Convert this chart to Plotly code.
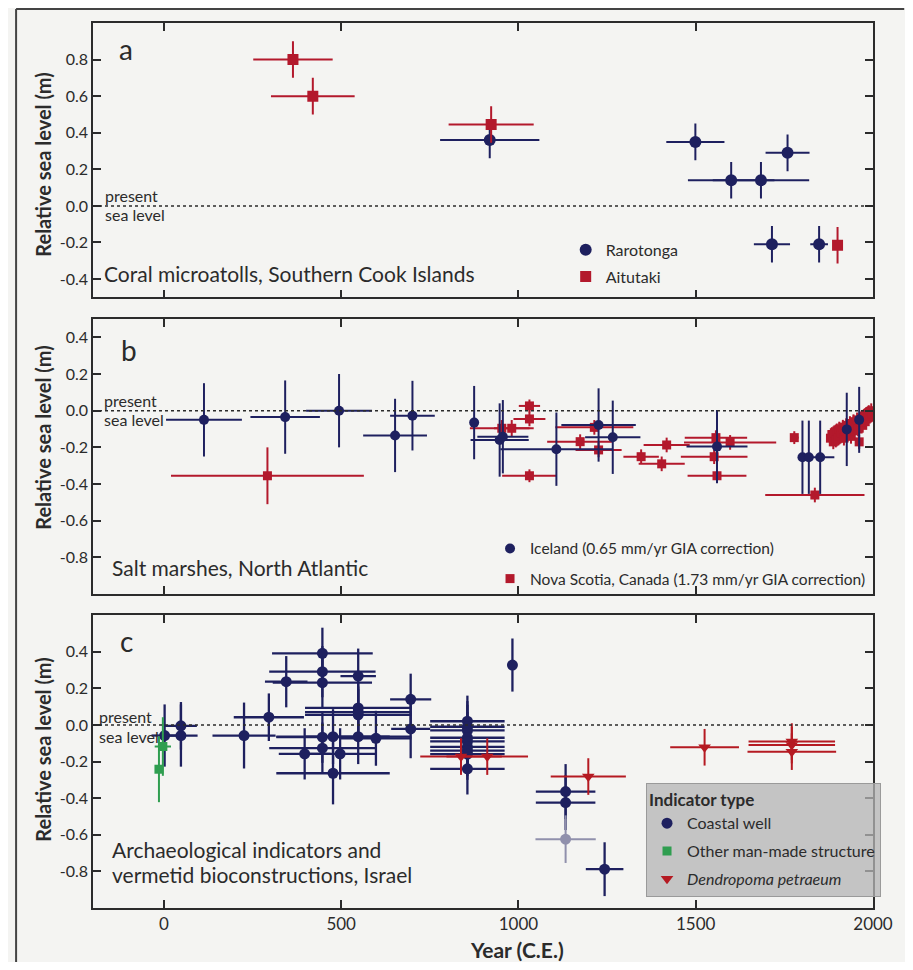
import plotly.graph_objects as go

# ---------------- data ----------------
# Panel a: Coral microatolls, Southern Cook Islands
rar_year = [919, 1499, 1600, 1684, 1759, 1715, 1848]
rar_val = [0.36, 0.35, 0.14, 0.14, 0.29, -0.21, -0.21]
rar_xerr = [140, 82, 122, 136, 62, 51, 25]
rar_yerr = [0.10, 0.10, 0.10, 0.10, 0.10, 0.10, 0.10]

ait_year = [364, 420, 923, 1900]
ait_val = [0.80, 0.60, 0.445, -0.215]
ait_xerr = [112, 118, 120, 4]
ait_yerr = [0.10, 0.10, 0.10, 0.10]

# Panel b: Salt marshes, North Atlantic
ice_year = [113, 342, 494, 652, 701, 875, 947, 956, 1107, 1226, 1266, 1560, 1801, 1819, 1851, 1926, 1961]
ice_val = [-0.05, -0.035, 0.0, -0.135, -0.027, -0.065, -0.16, -0.142, -0.21, -0.078, -0.145, -0.196,
           -0.254, -0.254, -0.254, -0.102, -0.05]
ice_xerr = [107, 98, 93, 90, 63, 6, 82, 72, 158, 105, 78, 86, 6, 6, 40, 6, 6]
ice_yerr = [0.2, 0.2, 0.2, 0.2, 0.19, 0.2, 0.2, 0.2, 0.2, 0.2, 0.2, 0.2, 0.2, 0.2, 0.2, 0.2, 0.18]

ns_year = [292, 953, 981, 1031, 1031, 1031, 1174, 1214, 1226, 1346, 1404, 1418, 1557, 1597, 1552, 1560, 1778, 1836]
ns_val = [-0.355, -0.096, -0.096, 0.026, -0.045, -0.355, -0.169, -0.091, -0.214, -0.251, -0.29, -0.187,
          -0.147, -0.173, -0.251, -0.355, -0.147, -0.46]
ns_xerr = [272, 90, 50, 30, 45, 77, 93, 110, 65, 50, 65, 65, 88, 130, 94, 83, 12, 140]
ns_yerr = [0.155, 0.045, 0.045, 0.035, 0.04, 0.035, 0.04, 0.04, 0.04, 0.04, 0.04, 0.04, 0.04, 0.04, 0.04,
           0.04, 0.035, 0.04]

# Nova Scotia modern cluster (tide-gauge era)
nsc_year = [1880, 1884, 1888, 1891, 1895, 1898, 1902, 1905, 1908, 1911, 1915, 1918, 1921, 1925, 1928, 1931,
            1935, 1938, 1941, 1945, 1948, 1951, 1955, 1958, 1961, 1965, 1968, 1971, 1975, 1978, 1981, 1985,
            1988, 1991, 1995, 1998]
nsc_val = [-0.15, -0.13, -0.17, -0.12, -0.16, -0.11, -0.15, -0.10, -0.14, -0.12, -0.09, -0.15, -0.11, -0.08,
           -0.13, -0.10, -0.07, -0.14, -0.09, -0.06, -0.11, -0.08, -0.05, -0.10, -0.17, -0.06, -0.04, -0.08,
           -0.03, -0.06, -0.02, -0.04, -0.01, -0.03, 0.0, -0.02]
nsc_xerr = [5] * len(nsc_year)
nsc_yerr = [0.04] * len(nsc_year)

# Panel c: Archaeological indicators and vermetid bioconstructions, Israel
cw_year = [2, 48, 48, 226, 296, 345, 447, 447, 447, 548, 696, 696, 548, 548, 548, 397, 447, 447, 477, 477,
           497, 548, 598, 856, 856, 856, 856, 856, 856, 856, 856, 856, 983, 1133, 1133, 1243]
cw_val = [-0.058, -0.058, -0.005, -0.058, 0.042, 0.236, 0.391, 0.291, 0.231, 0.267, 0.14, -0.022, 0.093,
          0.07, 0.055, -0.158, -0.067, -0.127, -0.064, -0.264, -0.158, -0.064, -0.073, 0.02, -0.01, -0.03,
          -0.07, -0.09, -0.12, -0.14, -0.16, -0.24, 0.327, -0.364, -0.424, -0.788]
cw_xerr = [37, 47, 45, 89, 99, 60, 142, 150, 140, 50, 58, 55, 150, 150, 150, 73, 130, 150, 160, 160, 100,
           150, 100, 105, 105, 105, 105, 105, 105, 105, 105, 105, 10, 84, 84, 53]
cw_yerr = [0.17, 0.17, 0.13, 0.18, 0.13, 0.14, 0.14, 0.14, 0.14, 0.15, 0.14, 0.16, 0.14, 0.14, 0.14, 0.14,
           0.14, 0.14, 0.15, 0.17, 0.14, 0.15, 0.15, 0.14, 0.14, 0.14, 0.14, 0.14, 0.14, 0.14, 0.14, 0.14,
           0.145, 0.15, 0.15, 0.147]

cwl_year = [1133]
cwl_val = [-0.624]
cwl_xerr = [85]
cwl_yerr = [0.13]

mm_year = [-3, -14]
mm_val = [-0.118, -0.242]
mm_xerr = [23, 5]
mm_yerr = [0.16, 0.18]

dp_year = [838, 912, 1197, 1525, 1771, 1771, 1771]
dp_val = [-0.173, -0.173, -0.282, -0.122, -0.091, -0.11, -0.146]
dp_xerr = [115, 115, 106, 97, 122, 122, 125]
dp_yerr = [0.10, 0.10, 0.10, 0.10, 0.10, 0.10, 0.10]

x_ticks = [0, 500, 1000, 1500, 2000]
x_ticktext = ["0", "500", "1000", "1500", "2000"]
ya_ticks = [-0.4, -0.2, 0.0, 0.2, 0.4, 0.6, 0.8]
ya_text = ["-0.4", "-0.2", "0.0", "0.2", "0.4", "0.6", "0.8"]
yb_ticks = [-0.8, -0.6, -0.4, -0.2, 0.0, 0.2, 0.4]
yb_text = ["-0.8", "-0.6", "-0.4", "-0.2", "0.0", "0.2", "0.4"]
yc_ticks = [-0.8, -0.6, -0.4, -0.2, 0.0, 0.2, 0.4]
yc_text = ["-0.8", "-0.6", "-0.4", "-0.2", "0.0", "0.2", "0.4"]

# ---------------- style ----------------
NAVY = "#1e205f"
RED = "#b3192c"
DRED = "#b51a22"
GREEN = "#2f9e50"
LIGHT = "#9090ac"
INK = "#2b2b2b"
BG = "#f4f4f2"
FONT = "Lato, 'Open Sans', sans-serif"

fig = go.Figure()


def pts(x, y, xe, ye, color, symbol, size, name, xa, ya, legend, showlegend=True, lw=2, group=None, rank=1):
    return go.Scatter(
        x=x, y=y, mode="markers", name=name,
        marker=dict(color=color, symbol=symbol, size=size, line=dict(width=0)),
        error_x=dict(type="data", array=xe, symmetric=True, color=color, thickness=lw, width=0),
        error_y=dict(type="data", array=ye, symmetric=True, color=color, thickness=lw, width=0),
        xaxis=xa, yaxis=ya, legend=legend, showlegend=showlegend,
        legendgroup=group or name, legendrank=rank, hoverinfo="x+y")


# panel a
fig.add_trace(pts(rar_year, rar_val, rar_xerr, rar_yerr, NAVY, "circle", 12, "Rarotonga", "x", "y", "legend", rank=1))
fig.add_trace(pts(ait_year, ait_val, ait_xerr, ait_yerr, RED, "square", 11, "Aitutaki", "x", "y", "legend", rank=2))

# panel b
fig.add_trace(pts(ns_year, ns_val, ns_xerr, ns_yerr, RED, "square", 9,
                  "Nova Scotia, Canada (1.73 mm/yr GIA correction)", "x2", "y2", "legend2", group="ns", rank=2))
fig.add_trace(pts(nsc_year, nsc_val, nsc_xerr, nsc_yerr, RED, "square", 9, "ns cluster", "x2", "y2", "legend2",
                  showlegend=False, group="ns", rank=3))
fig.add_trace(pts(ice_year, ice_val, ice_xerr, ice_yerr, NAVY, "circle", 10,
                  "Iceland (0.65 mm/yr GIA correction)", "x2", "y2", "legend2", group="ice", rank=1))

# panel c
fig.add_trace(pts(cw_year, cw_val, cw_xerr, cw_yerr, NAVY, "circle", 11, "Coastal well", "x3", "y3", "legend3",
                  lw=2.3, group="cw", rank=1))
fig.add_trace(pts(cwl_year, cwl_val, cwl_xerr, cwl_yerr, LIGHT, "circle", 11, "Coastal well (light)", "x3", "y3",
                  "legend3", showlegend=False, group="cw", rank=4))
fig.add_trace(pts(mm_year, mm_val, mm_xerr, mm_yerr, GREEN, "square", 9, "Other man-made structure", "x3", "y3",
                  "legend3", group="mm", rank=2))
fig.add_trace(pts(dp_year, dp_val, dp_xerr, dp_yerr, DRED, "triangle-down", 11, "<i>Dendropoma petraeum</i>",
                  "x3", "y3", "legend3", group="dp", rank=3))

# ---------------- axes ----------------
def xax(anchor, labels):
    return dict(range=[-200, 2000], tickvals=x_ticks, ticktext=x_ticktext, ticks="inside", ticklen=8,
                tickwidth=1.5, tickcolor=INK, showline=True, linecolor=INK, linewidth=1.5, mirror="ticks",
                showgrid=False, zeroline=False, showticklabels=labels, anchor=anchor, domain=[0, 1],
                tickfont=dict(size=17, color=INK, family=FONT))


def yax(rng, tv, tt, domain, anchor):
    return dict(range=rng, tickvals=tv, ticktext=tt, ticks="inside", ticklen=8, tickwidth=1.5, tickcolor=INK,
                showline=True, linecolor=INK, linewidth=1.5, mirror="ticks", showgrid=False, zeroline=False,
                domain=domain, anchor=anchor, tickfont=dict(size=16, color=INK, family=FONT))


fig.update_layout(
    xaxis=xax("y", False),
    xaxis2=xax("y2", False),
    xaxis3=xax("y3", True),
    yaxis=yax([-0.5, 1.0], ya_ticks, ya_text, [0.690, 1.0], "x"),
    yaxis2=yax([-1.0, 0.5], yb_ticks, yb_text, [0.3548, 0.6655], "x2"),
    yaxis3=yax([-1.0, 0.6], yc_ticks, yc_text, [0.0, 0.331], "x3"),
)

# ---------------- annotations ----------------
ann = []


def txt(text, x, y, xref, yref, size=14, xanchor="left", bold=False, angle=0):
    t = text
    if bold:
        t = "<b>" + t + "</b>"
    ann.append(dict(text=t, x=x, y=y, xref=xref, yref=yref, showarrow=False, xanchor=xanchor,
                    yanchor="middle", textangle=angle, font=dict(size=size, color=INK, family=FONT)))


# panel a
txt("a", 0.042, 0.904, "x domain", "y domain", size=28, xanchor="center")
txt("present", 0.0126, 0.372, "x domain", "y domain", size=16)
txt("sea level", 0.0126, 0.303, "x domain", "y domain", size=16)
txt("Coral microatolls, Southern Cook Islands", 0.0109, 0.088, "x domain", "y domain", size=21)
# panel b
txt("b", 0.046, 0.887, "x2 domain", "y2 domain", size=28, xanchor="center")
txt("present", 0.012, 0.705, "x2 domain", "y2 domain", size=16)
txt("sea level", 0.012, 0.633, "x2 domain", "y2 domain", size=16)
txt("Salt marshes, North Atlantic", 0.022, 0.095, "x2 domain", "y2 domain", size=21)
# panel c
txt("c", 0.043, 0.911, "x3 domain", "y3 domain", size=28, xanchor="center")
txt("present", 0.005, 0.653, "x3 domain", "y3 domain", size=16)
txt("sea level", 0.005, 0.587, "x3 domain", "y3 domain", size=16)
txt("Archaeological indicators and", 0.022, 0.199, "x3 domain", "y3 domain", size=21)
txt("vermetid bioconstructions, Israel", 0.022, 0.114, "x3 domain", "y3 domain", size=21)

# axis titles
for yc in [0.8395, 0.531, 0.1785]:
    txt("Relative sea level (m)", -0.0645, yc, "paper", "paper", size=20, xanchor="center", bold=True, angle=-90)
txt("Year (C.E.)", 0.544, -0.047, "paper", "paper", size=21, xanchor="center", bold=True)

# ---------------- shapes ----------------
shapes = []
for xr, yr in [("x", "y"), ("x2", "y2"), ("x3", "y3")]:
    shapes.append(dict(type="line", xref=xr + " domain", yref=yr, x0=0, x1=1, y0=0, y1=0,
                       line=dict(color=INK, width=1.5, dash="dot")))
# page frame lines
shapes.append(dict(type="line", xref="paper", yref="paper", x0=-0.0986, x1=-0.0986, y0=-0.08, y1=1.0158,
                   line=dict(color="#444", width=2)))
shapes.append(dict(type="line", xref="paper", yref="paper", x0=-0.0986, x1=1.04, y0=1.0158, y1=1.0158,
                   line=dict(color="#444", width=2)))

legend_common = dict(xanchor="left", yanchor="top", bgcolor="rgba(0,0,0,0)", traceorder="grouped",
                     itemclick=False, itemdoubleclick=False)

fig.update_layout(
    width=897, height=954,
    margin=dict(l=85, r=21, t=15, b=54),
    paper_bgcolor=BG, plot_bgcolor=BG,
    font=dict(family=FONT, color=INK),
    annotations=ann, shapes=shapes,
    legend=dict(x=0.606, y=0.763, tracegroupgap=3, font=dict(size=16, color=INK, family=FONT),
                **legend_common),
    legend2=dict(x=0.509, y=0.425, tracegroupgap=7, font=dict(size=15.5, color=INK, family=FONT),
                 **legend_common),
    legend3=dict(x=0.709, y=0.141, tracegroupgap=4, font=dict(size=16, color=INK, family=FONT),
                 xanchor="left", yanchor="top", traceorder="grouped",
                 bgcolor="rgba(180,180,180,0.75)", bordercolor="#9a9a9a", borderwidth=1,
                 title=dict(text="<b>Indicator type</b>", font=dict(size=17, color=INK, family=FONT))),
    showlegend=True,
)

fig.write_html("out.html")
